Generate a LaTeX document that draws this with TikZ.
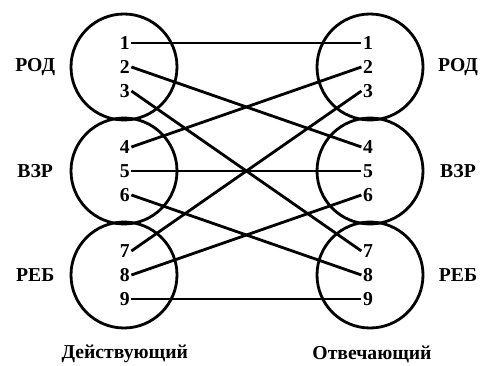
\documentclass[tikz,border=0pt]{standalone}
\usepackage{fontspec}
\setmainfont{Liberation Serif}
\usepackage{tikz}

\tikzset{
	ring/.style={draw,circle,line width=2pt,minimum size=2.65cm,inner sep=0pt},
	num/.style={inner sep=1pt,font=\fontsize{14}{14}\selectfont\bfseries},
	grp/.style={font=\fontsize{14}{14}\selectfont\bfseries},
	wire/.style={line width=2pt}
}

\begin{document}
\begin{tikzpicture}
				\useasboundingbox (0,0) rectangle (12.05,9.125);
				\node[ring] (lrod) at (3.1,7.45) {};
				\node[ring] (lvzr) at (3.1,4.85) {};
				\node[ring] (lreb) at (3.1,2.25) {};
				\node[ring] (rrod) at (9.25,7.45) {};
				\node[ring] (rvzr) at (9.25,4.85) {};
				\node[ring] (rreb) at (9.25,2.25) {};
				\node[num] (l1) at (3.12,8.05) {1};
				\node[num] (l2) at (3.12,7.45) {2};
				\node[num] (l3) at (3.12,6.85) {3};
				\node[num] (l4) at (3.12,5.45) {4};
				\node[num] (l5) at (3.12,4.85) {5};
				\node[num] (l6) at (3.12,4.25) {6};
				\node[num] (l7) at (3.12,2.85) {7};
				\node[num] (l8) at (3.12,2.25) {8};
				\node[num] (l9) at (3.12,1.65) {9};
				\node[num] (r1) at (9.2,8.05) {1};
				\node[num] (r2) at (9.2,7.45) {2};
				\node[num] (r3) at (9.2,6.85) {3};
				\node[num] (r4) at (9.2,5.45) {4};
				\node[num] (r5) at (9.2,4.85) {5};
				\node[num] (r6) at (9.2,4.25) {6};
				\node[num] (r7) at (9.2,2.85) {7};
				\node[num] (r8) at (9.2,2.25) {8};
				\node[num] (r9) at (9.2,1.65) {9};
				\node[grp] (lrodt) at (0.88,7.45) {РОД};
				\node[grp] (lvzrt) at (0.88,4.85) {ВЗР};
				\node[grp] (lrebt) at (0.88,2.25) {РЕБ};
				\node[grp] (rrodt) at (11.45,7.45) {РОД};
				\node[grp] (rvzrt) at (11.45,4.85) {ВЗР};
				\node[grp] (rrebt) at (11.45,2.25) {РЕБ};
				\node[grp] (act) at (3.12,0.27) {Действующий};
				\node[grp] (resp) at (9.3,0.27) {Отвечающий};
				\draw[wire] (l1.east) -- (r1.west);
				\draw[wire] (l2.east) -- (r4.west);
				\draw[wire] (l3.east) -- (r7.west);
				\draw[wire] (l4.east) -- (r2.west);
				\draw[wire] (l5.east) -- (r5.west);
				\draw[wire] (l6.east) -- (r8.west);
				\draw[wire] (l7.east) -- (r3.west);
				\draw[wire] (l8.east) -- (r6.west);
				\draw[wire] (l9.east) -- (r9.west);
			\end{tikzpicture}
\end{document}
